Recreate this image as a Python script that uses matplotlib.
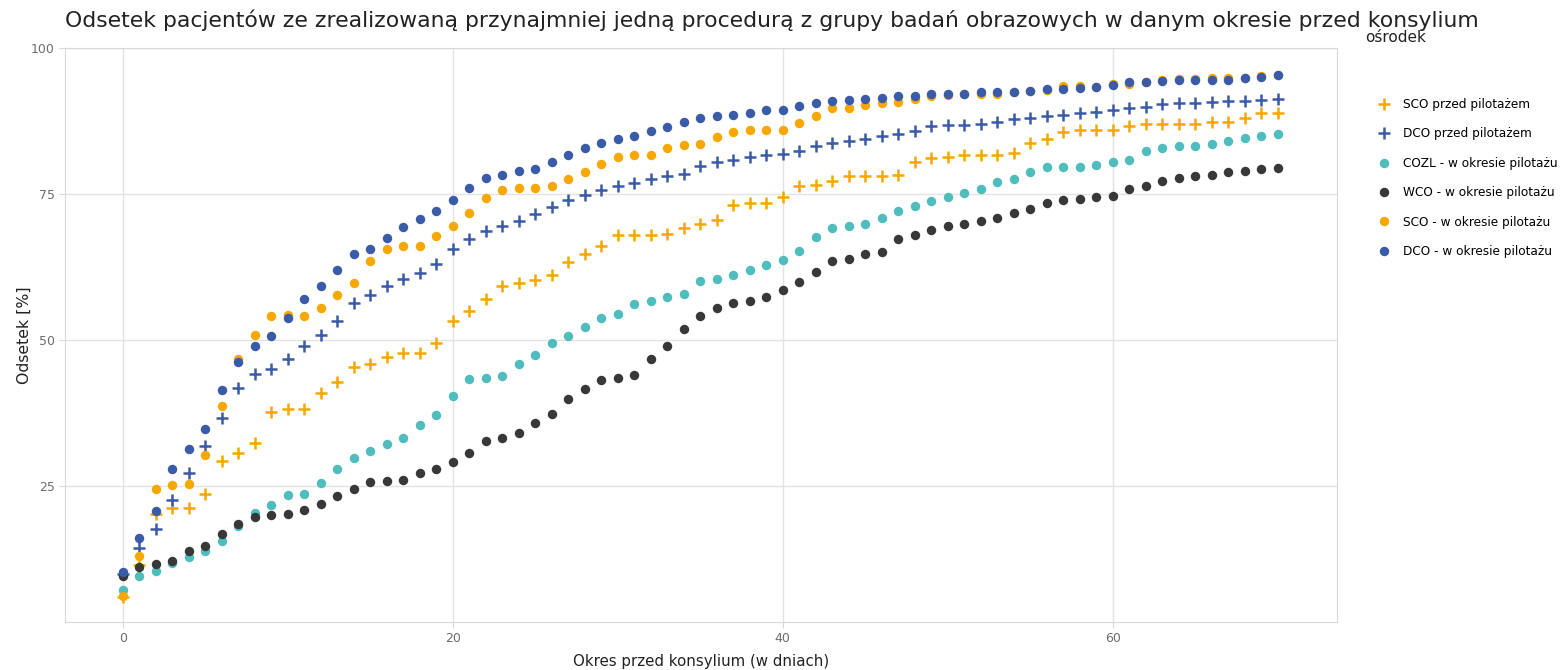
import matplotlib
matplotlib.use('Agg')
import matplotlib.pyplot as plt

days = list(range(71))

sco_przed = [6.0, 11.5, 20.2, 21.3, 21.3, 23.7, 29.3, 30.7, 32.4, 37.6,
             38.2, 38.2, 41.0, 42.8, 45.3, 45.9, 47.0, 47.7, 47.7, 49.4,
             53.3, 55.0, 57.1, 59.2, 59.8, 60.2, 61.2, 63.3, 64.8, 66.1,
             67.9, 67.9, 67.9, 68.2, 69.2, 69.9, 70.6, 73.1, 73.4, 73.4,
             74.5, 76.3, 76.5, 77.2, 78.0, 78.0, 78.0, 78.3, 80.4, 81.1,
             81.4, 81.7, 81.7, 81.7, 82.1, 83.8, 84.5, 85.7, 86.0, 86.0,
             86.0, 86.6, 87.0, 87.0, 87.0, 87.0, 87.4, 87.4, 88.0, 88.8,
             88.8]
dco_przed = [10.0, 14.3, 17.6, 22.6, 27.3, 31.8, 36.6, 41.7, 44.1, 45.0,
             46.8, 49.0, 50.9, 53.3, 56.3, 57.7, 59.2, 60.4, 61.4, 63.0,
             65.6, 67.3, 68.7, 69.6, 70.4, 71.5, 72.8, 74.0, 74.8, 75.6,
             76.3, 76.9, 77.6, 78.0, 78.5, 79.8, 80.4, 80.9, 81.3, 81.6,
             81.8, 82.4, 83.3, 83.8, 84.1, 84.4, 85.0, 85.3, 85.8, 86.6,
             86.8, 86.8, 87.0, 87.4, 87.9, 88.0, 88.4, 88.6, 88.9, 89.1,
             89.4, 89.7, 89.9, 90.4, 90.5, 90.6, 90.8, 90.9, 91.0, 91.1,
             91.3]
cozl = [7.2, 9.5, 10.4, 11.8, 12.8, 13.9, 15.6, 18.2, 20.3, 21.7,
        23.4, 23.6, 25.5, 27.9, 29.8, 30.9, 32.1, 33.2, 35.4, 37.1,
        40.4, 43.3, 43.5, 43.9, 45.9, 47.5, 49.5, 50.6, 52.3, 53.7,
        54.5, 56.2, 56.6, 57.4, 57.9, 60.1, 60.4, 61.2, 62.0, 62.8,
        63.7, 65.3, 67.6, 69.2, 69.6, 69.9, 70.9, 72.1, 73.0, 73.8,
        74.5, 75.1, 75.9, 77.1, 77.5, 78.8, 79.6, 79.6, 79.7, 80.0,
        80.4, 80.9, 82.3, 82.8, 83.2, 83.2, 83.5, 84.0, 84.6, 85.0,
        85.3]
wco = [9.5, 11.1, 11.6, 12.2, 13.8, 14.7, 16.8, 18.4, 19.7, 20.0,
       20.2, 20.8, 21.9, 23.2, 24.4, 25.7, 25.9, 26.0, 27.3, 27.9,
       29.1, 30.7, 32.7, 33.2, 34.1, 35.8, 37.3, 39.9, 41.6, 43.2,
       43.5, 44.0, 46.7, 48.9, 51.8, 54.1, 55.5, 56.3, 56.6, 57.4,
       58.5, 60.0, 61.6, 63.5, 63.8, 64.7, 65.1, 67.3, 67.9, 68.8,
       69.6, 69.9, 70.4, 70.9, 71.7, 72.4, 73.5, 74.0, 74.1, 74.4,
       74.7, 75.9, 76.4, 77.2, 77.8, 78.0, 78.3, 78.7, 78.9, 79.2,
       79.4]
sco_pilot = [6.2, 13.0, 24.4, 25.1, 25.3, 30.3, 38.7, 46.7, 50.9, 54.1,
             54.2, 54.1, 55.5, 57.7, 59.8, 63.5, 65.6, 66.1, 66.1, 67.8,
             69.6, 71.7, 74.3, 75.7, 76.0, 76.0, 76.4, 77.6, 78.8, 80.1,
             81.3, 81.6, 81.6, 82.8, 83.4, 83.6, 84.8, 85.6, 86.0, 86.0,
             86.0, 87.2, 88.4, 89.7, 89.7, 90.2, 90.5, 90.7, 91.2, 91.7,
             91.9, 92.1, 92.1, 92.1, 92.5, 92.7, 92.8, 93.5, 93.5, 93.4,
             93.8, 93.8, 94.1, 94.5, 94.7, 94.7, 94.9, 94.9, 94.9, 95.2,
             95.4]
dco_pilot = [10.3, 16.0, 20.7, 27.9, 31.4, 34.8, 41.4, 46.3, 48.9, 50.7,
             53.8, 57.0, 59.2, 62.0, 64.7, 65.6, 67.5, 69.3, 70.8, 72.1,
             74.0, 76.1, 77.7, 78.3, 78.9, 79.2, 80.5, 81.7, 82.8, 83.7,
             84.5, 85.0, 85.8, 86.5, 87.3, 88.0, 88.4, 88.5, 88.8, 89.3,
             89.4, 90.0, 90.5, 90.9, 91.1, 91.3, 91.4, 91.7, 91.7, 92.1,
             92.2, 92.2, 92.4, 92.5, 92.5, 92.7, 92.9, 93.0, 93.2, 93.4,
             93.6, 94.1, 94.1, 94.3, 94.5, 94.5, 94.6, 94.6, 94.9, 95.1,
             95.3]

orange = '#f7a800'
blue = '#3a5ba8'
teal = '#4fbdbd'
dark = '#383838'

series = [
    ('SCO przed pilotażem', sco_przed, orange, '+'),
    ('DCO przed pilotażem', dco_przed, blue, '+'),
    ('COZL - w okresie pilotażu', cozl, teal, 'o'),
    ('WCO - w okresie pilotażu', wco, dark, 'o'),
    ('SCO - w okresie pilotażu', sco_pilot, orange, 'o'),
    ('DCO - w okresie pilotażu', dco_pilot, blue, 'o'),
]

plt.rcParams['font.family'] = ['DejaVu Sans']
fig = plt.figure(figsize=(15.62, 6.70), dpi=100)
ax = fig.add_axes([65 / 1562, 48 / 670, 1272 / 1562, 574 / 670])

for name, vals, col, m in series:
    if m == '+':
        ax.plot(days, vals, linestyle='none', marker='+', markersize=8,
                markeredgewidth=1.8, color=col, label=name)
    else:
        ax.plot(days, vals, linestyle='none', marker='o', markersize=6.8,
                markeredgewidth=0, color=col, label=name)

ax.set_xlim(-3.5, 73.6)
ax.set_ylim(1.7, 100)
ax.set_xticks([0, 20, 40, 60])
ax.set_yticks([25, 50, 75, 100])
ax.grid(True, color='#e3e3e3', linewidth=1)
ax.set_axisbelow(True)
for s in ax.spines.values():
    s.set_color('#d9d9d9')
ax.tick_params(colors='#d9d9d9', labelcolor='#6e6e6e', labelsize=9, length=4)

ax.set_xlabel('Okres przed konsylium (w dniach)', fontsize=10.8, color='#222222', labelpad=6)
ax.set_ylabel('Odsetek [%]', fontsize=11.3, color='#222222')
ax.yaxis.set_label_coords(-0.026, 0.5)
fig.text(65 / 1562, 1 - 20 / 670, 'Odsetek pacjentów ze zrealizowaną przynajmniej jedną procedurą z grupy badań obrazowych w danym okresie przed konsylium',
         fontsize=15.75, color='#222222', va='center', ha='left')

fig.text(1365 / 1562, 1 - 38 / 670, 'ośrodek', fontsize=11, color='#222222', va='center', ha='left')
fig.legend(loc='upper left', bbox_to_anchor=(1366 / 1562, 1 - 87 / 670), frameon=False,
           fontsize=8.7, labelspacing=1.36, handletextpad=0.95, handlelength=1.2)

fig.savefig('out.png', dpi=100)
